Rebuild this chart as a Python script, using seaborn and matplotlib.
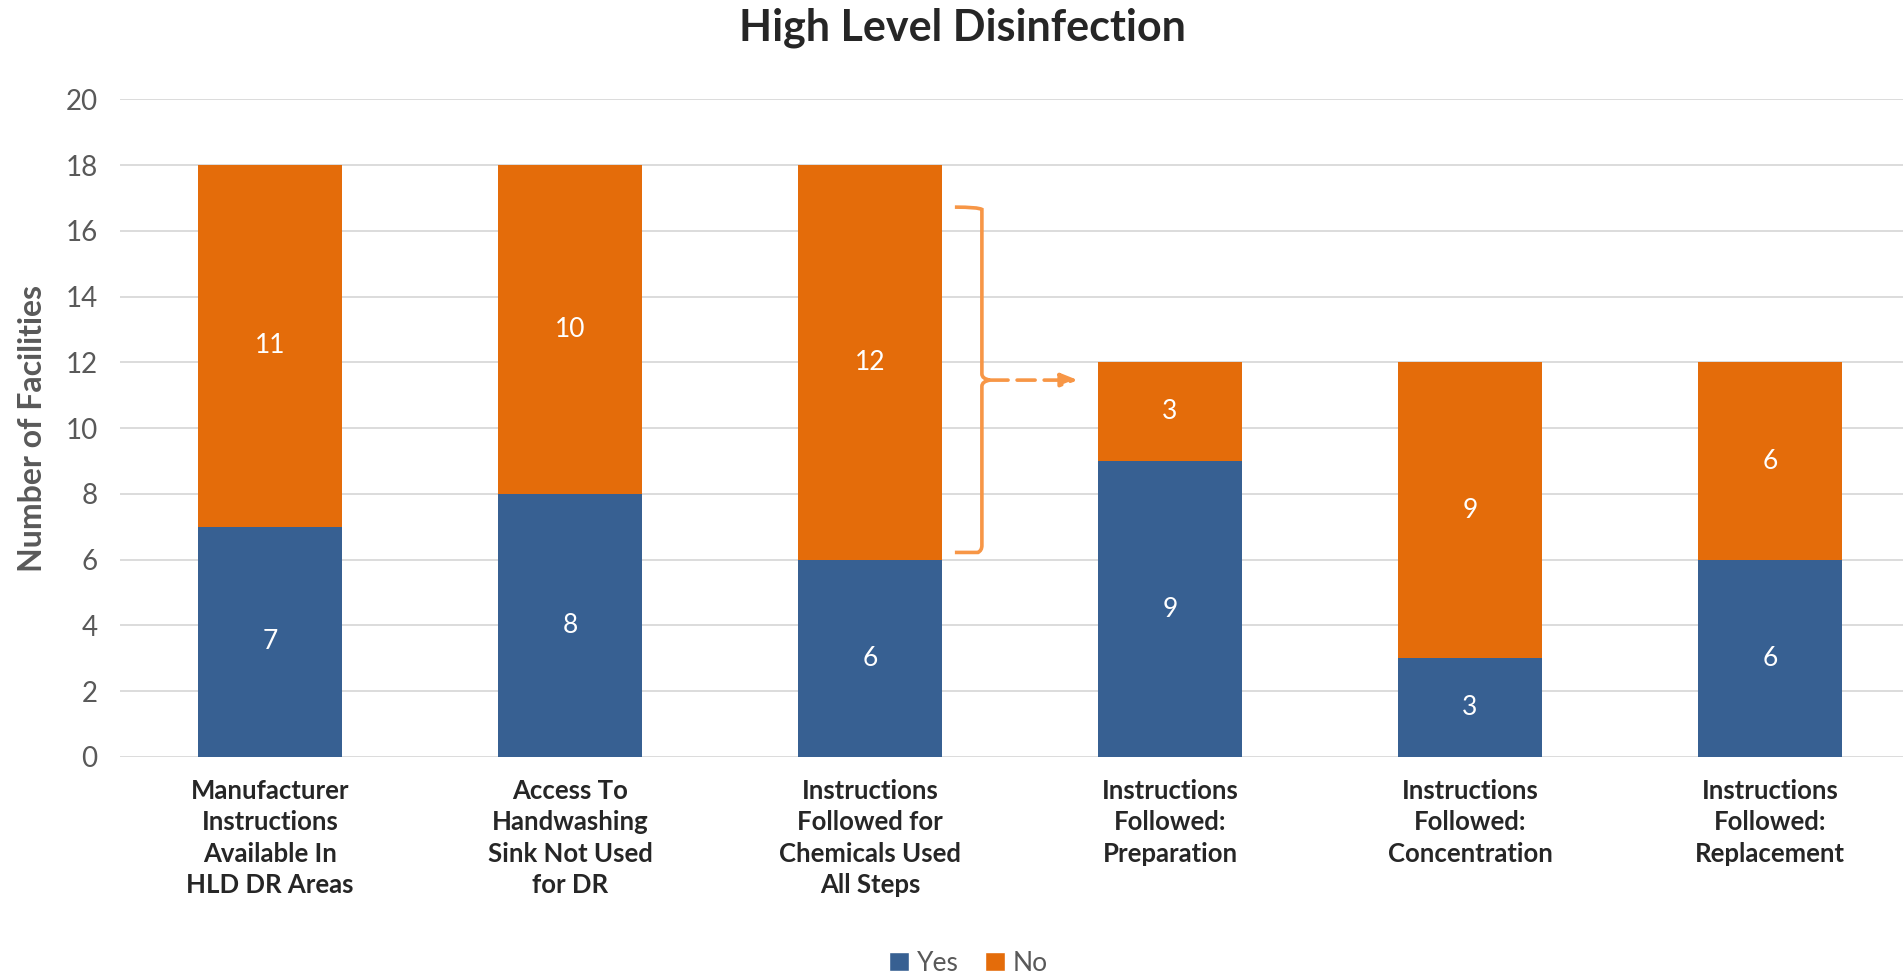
import matplotlib
matplotlib.use("Agg")
import matplotlib.pyplot as plt
import seaborn as sns
import pandas as pd
from matplotlib.patches import Patch
from matplotlib.path import Path
from matplotlib.patches import PathPatch

# --------------------
# Data
# --------------------
categories = [
    "Manufacturer\nInstructions\nAvailable In\nHLD DR Areas",
    "Access To\nHandwashing\nSink Not Used\nfor DR",
    "Instructions\nFollowed for\nChemicals Used\nAll Steps",
    "Instructions\nFollowed:\nPreparation",
    "Instructions\nFollowed:\nConcentration",
    "Instructions\nFollowed:\nReplacement",
]
yes_counts = [7, 8, 6, 9, 3, 6]
no_counts = [11, 10, 12, 3, 9, 6]
y_ticks = [0, 2, 4, 6, 8, 10, 12, 14, 16, 18, 20]

BLUE = "#376092"
ORANGE = "#E46C0A"
LIGHT_ORANGE = "#F79646"
GRID = "#D9D9D9"
GRAY = "#595959"

sns.set_style("white")
plt.rcParams["font.family"] = ["Lato", "DejaVu Sans"]

df = pd.DataFrame({"Category": categories, "Yes": yes_counts, "No": no_counts})
df["Total"] = df["Yes"] + df["No"]

fig = plt.figure(figsize=(19.03, 9.73), dpi=100)
ax = fig.add_axes([0.063, 0.222, 0.937, 0.676])

# stacked bars: totals (orange) underneath, yes (blue) on top
sns.barplot(data=df, x="Category", y="Total", color=ORANGE, width=0.48,
            saturation=1, linewidth=0, ax=ax, zorder=2)
sns.barplot(data=df, x="Category", y="Yes", color=BLUE, width=0.48,
            saturation=1, linewidth=0, ax=ax, zorder=3)

# value labels
for i, row in df.iterrows():
    ax.text(i, row["Yes"] / 2, str(row["Yes"]), ha="center", va="center",
            color="white", fontsize=19, zorder=4)
    ax.text(i, row["Yes"] + row["No"] / 2, str(row["No"]), ha="center",
            va="center", color="white", fontsize=19, zorder=4)

ax.set_ylim(0, 20)
ax.set_xlim(-0.5, 5.443)
ax.set_yticks(y_ticks)
ax.yaxis.grid(True, color=GRID, linewidth=1.3, zorder=0)
ax.set_axisbelow(True)
for s in ax.spines.values():
    s.set_visible(False)
ax.tick_params(axis="y", length=0, labelsize=20, labelcolor=GRAY, pad=16)
ax.tick_params(axis="x", length=0, labelsize=18.5, pad=16)
for lbl in ax.get_xticklabels():
    lbl.set_fontweight("bold")
    lbl.set_linespacing(1.36)

ax.set_xlabel("")
ax.set_ylabel("Number of Facilities", fontsize=23, fontweight="bold",
              color=GRAY, labelpad=13)
fig.suptitle("High Level Disinfection", fontsize=31, fontweight="bold",
             y=0.992, x=0.506)

# bracket + dashed arrow
bx, hx, mid = 2.373, 2.283, 11.46
verts = [(hx, 16.72), (2.36, 16.72), (bx, 16.65), (bx, 16.5),
         (bx, 11.65), (bx, 11.5), (2.40, mid),
         (bx, 11.42), (bx, 11.27),
         (bx, 6.43), (bx, 6.28), (2.36, 6.22), (hx, 6.22)]
codes = [Path.MOVETO, Path.CURVE3, Path.CURVE3, Path.LINETO,
         Path.LINETO, Path.CURVE3, Path.CURVE3,
         Path.CURVE3, Path.CURVE3,
         Path.LINETO, Path.CURVE3, Path.CURVE3, Path.LINETO]
ax.add_patch(PathPatch(Path(verts, codes), fill=False, edgecolor=LIGHT_ORANGE,
                       linewidth=2.6, zorder=5))
ax.annotate("", xy=(2.693, mid), xytext=(2.40, mid),
            arrowprops=dict(arrowstyle="-|>,head_length=1.0,head_width=0.4",
                            color=LIGHT_ORANGE, lw=2.6, linestyle=(0, (5, 2.5)),
                            shrinkA=0, shrinkB=0), zorder=5)

# legend
handles = [Patch(facecolor=BLUE, label="Yes"), Patch(facecolor=ORANGE, label="No")]
fig.legend(handles=handles, loc="lower center", bbox_to_anchor=(0.509, -0.027),
           ncol=2, frameon=False, fontsize=19, labelcolor=GRAY,
           handlelength=0.75, handleheight=0.75, handletextpad=0.3,
           columnspacing=1.0)

fig.savefig("out.png", dpi=100)
